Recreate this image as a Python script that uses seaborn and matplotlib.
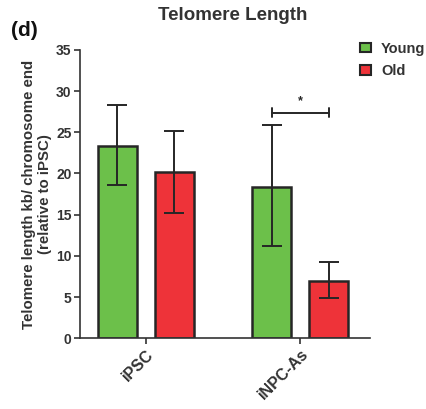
import matplotlib
matplotlib.use("Agg")
import matplotlib.pyplot as plt
import seaborn as sns
import pandas as pd
import numpy as np
from matplotlib.patches import Patch

sns.set_style("ticks")
plt.rcParams['font.family'] = ['Liberation Sans', 'DejaVu Sans']
plt.rcParams['font.weight'] = 'bold'

categories = ["iPSC", "iNPC-As"]
groups = ["Young", "Old"]
young_mean = [23.3, 18.4]
old_mean = [20.15, 7.0]
young_lo = [18.6, 11.2]
young_hi = [28.3, 25.85]
old_lo = [15.2, 4.9]
old_hi = [25.2, 9.25]
yticks = [0, 5, 10, 15, 20, 25, 30, 35]

colors = {"Young": "#6CC04A", "Old": "#EE3339"}
edge = "#262626"

df = pd.DataFrame({
    "cat": categories * 2,
    "group": ["Young"] * 2 + ["Old"] * 2,
    "val": young_mean + old_mean,
})

fig = plt.figure(figsize=(4.27, 4.09), dpi=100)
ax = fig.add_axes([0.1874, 0.1729, 0.6791, 0.7051])

sns.barplot(data=df, x="cat", y="val", hue="group", order=categories,
            hue_order=groups, palette=colors, width=0.74, gap=0.32,
            saturation=1, errorbar=None, edgecolor=edge, linewidth=1.8,
            ax=ax, legend=False)

# error bars from patch centers
lows = {"Young": young_lo, "Old": old_lo}
highs = {"Young": young_hi, "Old": old_hi}
means = {"Young": young_mean, "Old": old_mean}
centers = {}
for gi, g in enumerate(groups):
    pats = ax.patches[gi * len(categories):(gi + 1) * len(categories)]
    xs = [p.get_x() + p.get_width() / 2 for p in pats]
    centers[g] = xs
    m = np.array(means[g])
    lo = m - np.array(lows[g])
    hi = np.array(highs[g]) - m
    ax.errorbar(xs, m, yerr=[lo, hi], fmt="none", ecolor=edge,
                elinewidth=1.4, capsize=7.5, capthick=1.4, zorder=5)

# significance bracket
x1, x2 = centers["Young"][1], centers["Old"][1]
yb = 27.4
ax.plot([x1, x2], [yb, yb], color=edge, lw=1.4)
ax.plot([x1, x1], [yb - 0.6, yb + 0.6], color=edge, lw=1.4)
ax.plot([x2, x2], [yb - 0.6, yb + 0.6], color=edge, lw=1.4)
ax.text((x1 + x2) / 2, yb + 0.7, "*", ha="center", va="bottom",
        fontsize=9, color=edge)

ax.set_xlim(-0.425, 1.451)
ax.set_ylim(0, 35)
ax.set_yticks(yticks)
ax.set_yticklabels([str(t) for t in yticks], fontsize=10, fontweight="bold",
                   color="#333333")
ax.set_xticks([0, 1])
ax.set_xticklabels(categories, rotation=45, ha="right", rotation_mode="anchor",
                   fontsize=11.5, fontweight="bold", color="#333333")
ax.set_xlabel("")
ax.set_ylabel("Telomere length kb/ chromosome end\n(relative to iPSC)",
              fontsize=10.8, fontweight="bold", color="#333333", labelpad=3)
for s in ["top", "right"]:
    ax.spines[s].set_visible(False)
for s in ["left", "bottom"]:
    ax.spines[s].set_linewidth(1.2)
    ax.spines[s].set_color("#333333")
ax.tick_params(axis="both", width=1.2, length=4, color="#333333", pad=2)

handles = [Patch(facecolor=colors[g], edgecolor=edge, linewidth=1.5, label=g)
           for g in groups]
fig.legend(handles=handles, loc="upper left", bbox_to_anchor=(0.843, 0.898),
           frameon=False, prop={"weight": "bold", "size": 10.5},
           handlelength=0.75, handleheight=0.65, handletextpad=0.7,
           labelspacing=0.6, borderpad=0, borderaxespad=0,
           labelcolor="#333333")

fig.text(0.546, 0.962, "Telomere Length", ha="center", va="center",
         fontsize=13.5, fontweight="bold", color="#333333")
fig.text(0.025, 0.925, "(d)", ha="left", va="center", fontsize=15,
         fontweight="bold", color="#111111")

fig.savefig("out.png", dpi=100)
